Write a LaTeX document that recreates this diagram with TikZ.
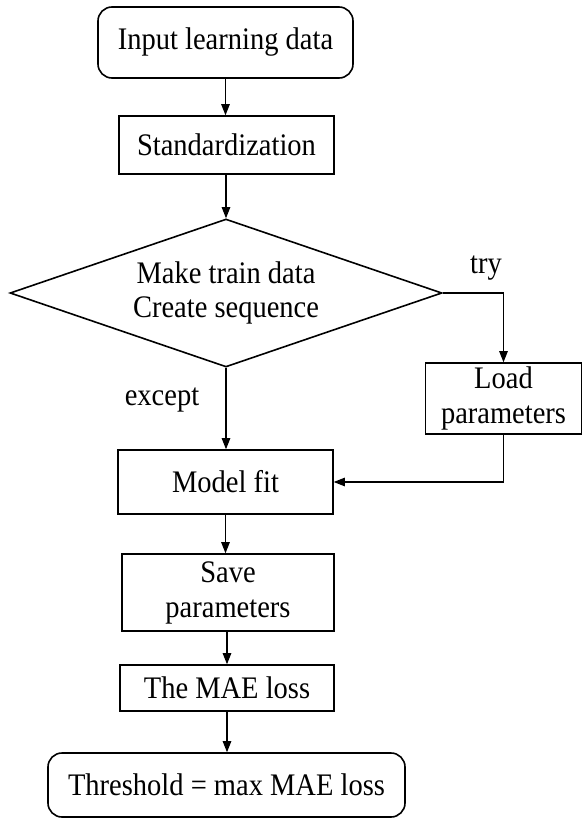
\documentclass[tikz,border=0pt]{standalone}
\usepackage{fontspec}
\setmainfont{Liberation Serif}
\usetikzlibrary{shapes.geometric,arrows.meta}
\newcommand{\vsx}[1]{\scalebox{1}[1.1]{#1}}
\begin{document}
\begin{tikzpicture}[x=1pt,y=-1pt,
  box/.style={draw, line width=1.6pt, inner sep=0pt, align=center,
    font=\fontsize{28.5}{35}\selectfont},
  rbox/.style={box, rounded corners=14pt},
  dia/.style={draw, diamond, aspect=2.92, line width=1.6pt, inner sep=0pt, align=center,
    minimum width=432pt, minimum height=148pt,
    font=\fontsize{28.5}{34}\selectfont},
  lbl/.style={inner sep=0pt, font=\fontsize{28.5}{34}\selectfont},
  conn/.style={draw, line width=1.1pt, -{Triangle[length=11pt,width=8.5pt]}}]
\useasboundingbox (0,0) rectangle (582,819);
\node[rbox, minimum width=255pt, minimum height=71pt] (in) at (225.5,42.5) {\vsx{Input learning data}};
\node[box, minimum width=215pt, minimum height=58pt] (std) at (226.5,145) {\vsx{Standardization}};
\node[dia] (mk) at (226,293) {\vsx{Make train data}\\\vsx{Create sequence}};
\node[box, minimum width=156pt, minimum height=71pt] (ld) at (503.5,398.5) {\vsx{Load}\\\vsx{parameters}};
\node[box, minimum width=215pt, minimum height=64pt] (mf) at (225.5,482) {\vsx{Model fit}};
\node[box, minimum width=212pt, minimum height=77pt] (sv) at (228,592.5) {\vsx{Save}\\\vsx{parameters}};
\node[box, minimum width=214pt, minimum height=46pt] (mae) at (227,688) {\vsx{The MAE loss}};
\node[rbox, minimum width=357pt, minimum height=64pt] (thr) at (226.5,785) {\vsx{Threshold = max MAE loss}};
\node[lbl] (try) at (486,268) {\vsx{try}};
\node[lbl] (exc) at (162,400) {\vsx{except}};
\draw[conn] (in.south) -- (in.south |- std.north);
\draw[conn] (std.south -| mk.north) -- (mk.north);
\draw[conn] (mk.east) -| (ld.north);
\draw[conn] (mk.south) -- (mk.south |- mf.north);
\draw[conn] (ld.south) |- (mf.east);
\draw[conn] (mf.south) -- (mf.south |- sv.north);
\draw[conn] (sv.south -| mae.north) -- (mae.north);
\draw[conn] (mae.south) -- (mae.south |- thr.north);
\end{tikzpicture}
\end{document}
